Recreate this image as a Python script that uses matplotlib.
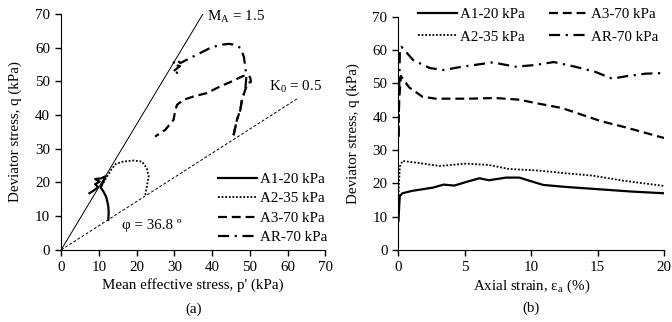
import numpy as np
import matplotlib.pyplot as plt

plt.rcParams['font.family'] = ['Liberation Serif', 'DejaVu Serif']
plt.rcParams['font.size'] = 10.8
plt.rcParams['mathtext.fontset'] = 'stix'

# ---- (a) stress paths: p' (kPa), q (kPa)
a1_p = [12.5, 12.6, 12.5, 12.2, 11.9, 11.2, 10.5, 11.0, 11.5, 11.8, 10.5, 9.0, 10.2, 9.0, 9.8, 8.5, 7.5]
a1_q = [8.9, 11.0, 12.9, 14.5, 15.8, 17.3, 18.5, 19.8, 21.2, 21.8, 21.2, 21.0, 20.2, 19.5, 18.6, 17.5, 16.8]
a2_p = [22.3, 22.7, 23.2, 22.7, 21.4, 19.2, 16.5, 14.5, 13.4, 12.2, 11.0]
a2_q = [16.3, 18.8, 21.8, 24.2, 26.2, 26.5, 26.2, 25.5, 24.0, 21.8, 19.5]
a3_p = [45.7, 46.6, 47.5, 47.9, 48.8, 49.5, 50.3, 50.1, 49.3, 47.9, 45.3, 42.2, 38.6, 35.1, 32.4, 30.7, 30.2, 29.8, 27.6, 24.9]
a3_q = [34.0, 38.6, 41.5, 44.5, 47.5, 49.5, 49.8, 51.2, 51.9, 51.4, 50.0, 48.5, 46.5, 45.5, 44.5, 43.0, 41.1, 38.6, 35.6, 33.6]
ar_p = [45.7, 46.6, 47.5, 47.9, 48.8, 49.1, 48.8, 48.4, 47.5, 46.2, 44.4, 42.2, 39.5, 36.9, 34.2, 31.6, 30.5, 29.5, 31.5, 29.8, 30.5, 31.0]
ar_q = [34.0, 38.6, 41.5, 44.5, 47.5, 51.4, 54.4, 57.4, 59.9, 60.8, 61.1, 60.8, 59.9, 58.4, 56.9, 55.4, 56.5, 55.0, 54.5, 53.0, 52.0, 53.5]

# ---- (b) q vs axial strain (%)
b1_e = [0.0, 0.05, 0.1, 0.3, 1.0, 2.6, 3.4, 4.2, 5.2, 6.1, 6.8, 8.1, 9.1, 10.9, 12.6, 15.1, 17.6, 20.0]
b1_q = [8.7, 13.0, 16.2, 17.0, 17.7, 18.7, 19.6, 19.3, 20.5, 21.5, 20.9, 21.7, 21.7, 19.5, 18.9, 18.2, 17.5, 17.0]
b2_e = [0.0, 0.05, 0.1, 0.3, 1.3, 3.1, 5.1, 6.8, 8.3, 10.6, 12.6, 14.6, 16.9, 19.8, 20.0]
b2_q = [16.3, 21.0, 25.0, 26.7, 26.2, 25.2, 25.9, 25.5, 24.3, 23.8, 23.0, 22.3, 20.8, 19.3, 19.2]
b3_e = [0.0, 0.05, 0.18, 0.8, 1.8, 2.8, 5.3, 7.3, 9.1, 10.3, 12.3, 13.8, 15.3, 17.1, 20.0]
b3_q = [34.0, 45.0, 52.2, 48.8, 46.0, 45.4, 45.4, 45.6, 45.1, 44.1, 42.6, 40.6, 38.6, 36.8, 33.6]
br_e = [0.0, 0.05, 0.1, 0.22, 1.1, 2.36, 3.4, 4.8, 7.1, 8.8, 10.3, 11.7, 13.3, 14.8, 16.1, 17.1, 18.6, 20.0]
br_q = [34.0, 48.0, 59.0, 61.0, 57.0, 54.6, 54.0, 55.0, 56.3, 55.0, 55.5, 56.4, 55.0, 53.5, 51.4, 52.1, 52.9, 53.1]

labels = ['A1-20 kPa', 'A2-35 kPa', 'A3-70 kPa', 'AR-70 kPa']
styles = [dict(ls='-', lw=1.6), dict(ls=(0, (1, 1)), lw=1.3),
          dict(ls=(0, (4, 2.2)), lw=1.6), dict(ls=(0, (5, 2.5, 1, 2.5)), lw=1.6)]

fig = plt.figure(figsize=(6.72, 3.22), dpi=100)
ax1 = fig.add_axes([0.091, 0.224, 0.393, 0.733])
ax2 = fig.add_axes([0.593, 0.224, 0.395, 0.724])

def style_axis(ax):
    for s in ['top', 'right']:
        ax.spines[s].set_visible(False)
    ax.tick_params(direction='out', length=4, width=1, pad=4)
    ax.set_ylim(0, 70)
    ax.set_yticks(range(0, 71, 10))
    ax.set_ylabel('Deviator stress, q (kPa)', labelpad=9)

# (a)
pts = [(a1_p, a1_q), (a2_p, a2_q), (a3_p, a3_q), (ar_p, ar_q)]
for (p, q), lab, st in zip(pts, labels, styles):
    ax1.plot(p, q, color='black', label=lab, **st)
ax1.plot([0, 37.6], [0, 70], color='black', lw=0.7)
ax1.plot([0, 62.8], [0, 45], color='black', lw=0.7, ls=(0, (3, 2)))
ax1.text(38.7, 69.2, r'M$_\mathregular{A}$ = 1.5', va='center', ha='left')
ax1.text(55.2, 48.3, r'K$_\mathregular{0}$ = 0.5', va='center', ha='left', clip_on=False)
ax1.text(16.0, 7.1, 'φ = 36.8 º', va='center', ha='left')
style_axis(ax1)
ax1.set_xlim(0, 70)
ax1.set_xticks(range(0, 71, 10))
ax1.set_xlabel("Mean effective stress, p' (kPa)", labelpad=3)
ax1.text(0.5, -0.25, '(a)', transform=ax1.transAxes, ha='center', va='center')
ax1.legend(loc='lower right', frameon=False, handlelength=2.6, handletextpad=0.2,
           labelspacing=0.4, borderaxespad=0.0, bbox_to_anchor=(1.03, -0.002))

# (b)
pts = [(b1_e, b1_q), (b2_e, b2_q), (b3_e, b3_q), (br_e, br_q)]
for (e, q), lab, st in zip(pts, labels, styles):
    ax2.plot(e, q, color='black', label=lab, **st)
style_axis(ax2)
ax2.set_xlim(0, 20)
ax2.set_xticks(range(0, 21, 5))
ax2.set_xlabel(r'Axial strain, ε$_\mathregular{a}$ (%)', labelpad=3)
ax2.text(0.5, -0.25, '(b)', transform=ax2.transAxes, ha='center', va='center')
ax2.legend(loc='upper right', ncol=2, frameon=False, handlelength=2.6, handletextpad=0.2,
           labelspacing=0.6, columnspacing=1.55, borderaxespad=0.0, bbox_to_anchor=(1.0, 1.065))

fig.savefig('out.png', dpi=100)
